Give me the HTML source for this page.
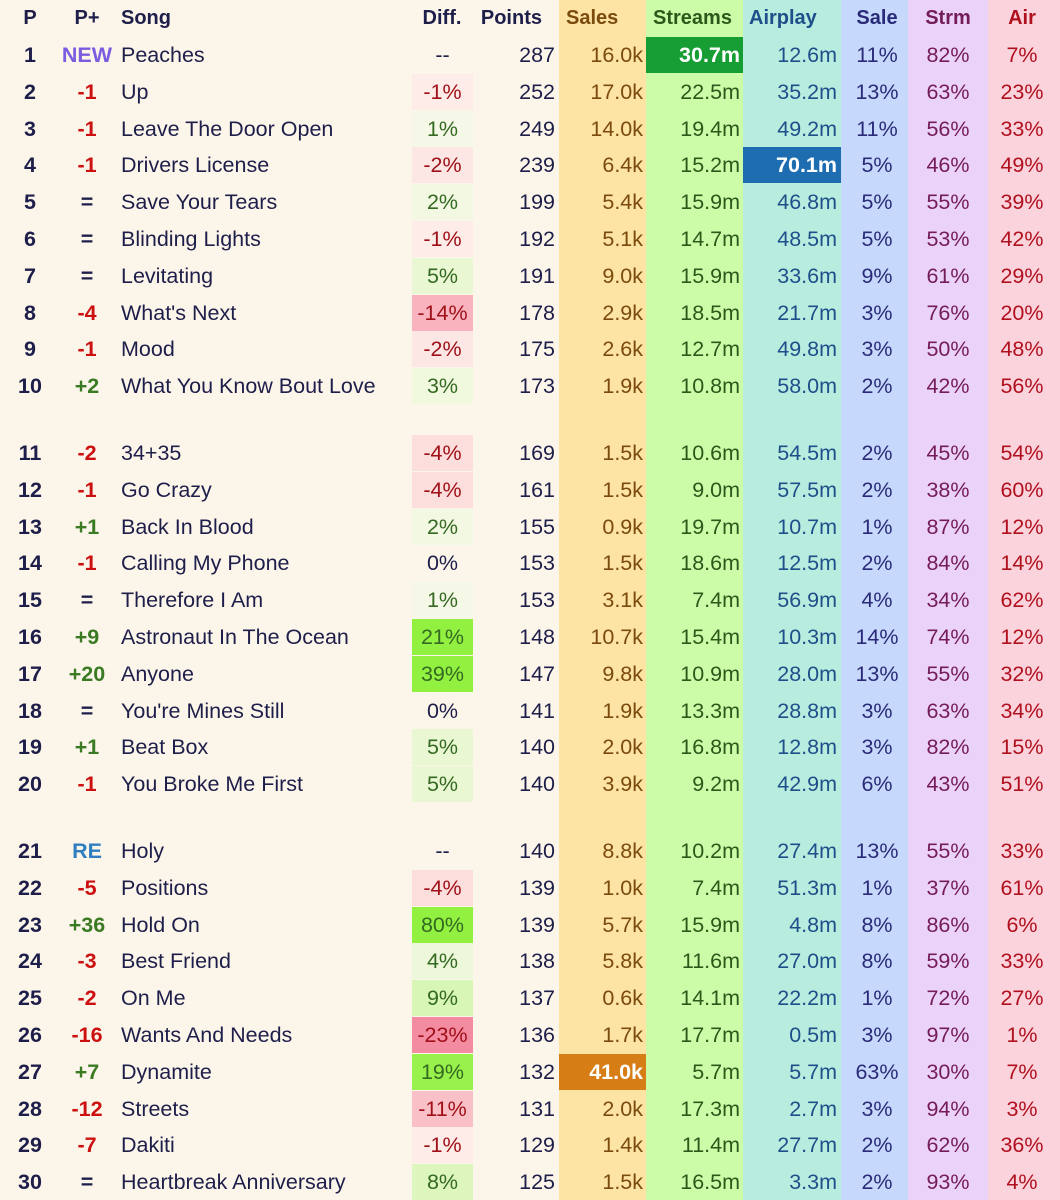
<!DOCTYPE html>
<html><head><meta charset="utf-8">
<style>
html,body{margin:0;padding:0;}
body{width:1060px;height:1200px;background:#fcf6ea;position:relative;overflow:hidden;font-family:"Liberation Sans",sans-serif;font-size:21.5px;color:#1e1e4a;}
.colbg{position:absolute;top:0;height:1200px;}
.c{position:absolute;height:36px;line-height:36px;white-space:nowrap;}
.h{font-weight:bold;font-size:20px;}
</style></head>
<body>
<div class="colbg" style="left:559px;width:87px;background:#fde3a4"></div>
<div class="colbg" style="left:646px;width:97px;background:#cdfca9"></div>
<div class="colbg" style="left:743px;width:98px;background:#b7ecde"></div>
<div class="colbg" style="left:841px;width:67px;background:#c6d9fc"></div>
<div class="colbg" style="left:908px;width:80px;background:#ebd2f8"></div>
<div class="colbg" style="left:988px;width:72px;background:#fbd3dc"></div>
<div id="t"></div>
<script>
const positions=[1,2,3,4,5,6,7,8,9,10,11,12,13,14,15,16,17,18,19,20,21,22,23,24,25,26,27,28,29,30];
const moves=["NEW","-1","-1","-1","=","=","=","-4","-1","+2","-2","-1","+1","-1","=","+9","+20","=","+1","-1","RE","-5","+36","-3","-2","-16","+7","-12","-7","="];
const songs=["Peaches","Up","Leave The Door Open","Drivers License","Save Your Tears","Blinding Lights","Levitating","What's Next","Mood","What You Know Bout Love","34+35","Go Crazy","Back In Blood","Calling My Phone","Therefore I Am","Astronaut In The Ocean","Anyone","You're Mines Still","Beat Box","You Broke Me First","Holy","Positions","Hold On","Best Friend","On Me","Wants And Needs","Dynamite","Streets","Dakiti","Heartbreak Anniversary"];
const diffs=[null,-1,1,-2,2,-1,5,-14,-2,3,-4,-4,2,0,1,21,39,0,5,5,null,-4,80,4,9,-23,19,-11,-1,8];
const points=[287,252,249,239,199,192,191,178,175,173,169,161,155,153,153,148,147,141,140,140,140,139,139,138,137,136,132,131,129,125];
const sales=[16.0,17.0,14.0,6.4,5.4,5.1,9.0,2.9,2.6,1.9,1.5,1.5,0.9,1.5,3.1,10.7,9.8,1.9,2.0,3.9,8.8,1.0,5.7,5.8,0.6,1.7,41.0,2.0,1.4,1.5];
const streams=[30.7,22.5,19.4,15.2,15.9,14.7,15.9,18.5,12.7,10.8,10.6,9.0,19.7,18.6,7.4,15.4,10.9,13.3,16.8,9.2,10.2,7.4,15.9,11.6,14.1,17.7,5.7,17.3,11.4,16.5];
const airplay=[12.6,35.2,49.2,70.1,46.8,48.5,33.6,21.7,49.8,58.0,54.5,57.5,10.7,12.5,56.9,10.3,28.0,28.8,12.8,42.9,27.4,51.3,4.8,27.0,22.2,0.5,5.7,2.7,27.7,3.3];
const saleShare=[11,13,11,5,5,5,9,3,3,2,2,2,1,2,4,14,13,3,3,6,13,1,8,8,1,3,63,3,2,2];
const strmShare=[82,63,56,46,55,53,61,76,50,42,45,38,87,84,34,74,55,63,82,43,55,37,86,59,72,97,30,94,62,93];
const airShare=[7,23,33,49,39,42,29,20,48,56,54,60,12,14,62,12,32,34,15,51,33,61,6,33,27,1,7,3,36,4];

const T=document.getElementById('t');
function cell(txt,style,name){
  const d=document.createElement('div');
  d.className='c';
  d.textContent=txt;
  d.setAttribute('style',style);
  
  
  T.appendChild(d);
  return d;
}
function rowY(i){return 37+i*36.8+Math.floor(i/10)*30;}
function mix(a,b,t){return 'rgb('+a.map((v,k)=>Math.round(v+(b[k]-v)*t)).join(',')+')';}
const hy='top:0px;';
cell('P',hy+'left:10px;width:40px;text-align:center;','header-p').classList.add('h');
cell('P+',hy+'left:62px;width:50px;text-align:center;','header-p-plus').classList.add('h');
cell('Song',hy+'left:121px;','header-song').classList.add('h');
cell('Diff.',hy+'left:411px;width:62px;text-align:center;','header-diff').classList.add('h');
cell('Points',hy+'left:470px;width:72px;text-align:right;','header-points').classList.add('h');
cell('Sales',hy+'left:566px;color:#7a4b0c;','header-sales').classList.add('h');
cell('Streams',hy+'left:653px;color:#2a5a1a;','header-streams').classList.add('h');
cell('Airplay',hy+'left:749px;color:#1f4f8a;','header-airplay').classList.add('h');
cell('Sale',hy+'left:841px;width:72px;text-align:center;color:#2a2a78;','header-sale-share').classList.add('h');
cell('Strm',hy+'left:908px;width:80px;text-align:center;color:#741c58;','header-strm-share').classList.add('h');
cell('Air',hy+'left:988px;width:68px;text-align:center;color:#b0101e;','header-air-share').classList.add('h');

for(let i=0;i<positions.length;i++){
  const y='top:'+rowY(i)+'px;';
  cell(String(positions[i]),y+'left:10px;width:40px;text-align:center;font-weight:bold;','position');
  const m=moves[i];
  let mc='#1e1e4a';
  if(m==='NEW')mc='#7b5ce0';else if(m==='RE')mc='#2f7fc0';else if(m[0]==='-')mc='#cc1010';else if(m[0]==='+')mc='#3a7a22';
  cell(m,y+'left:57px;width:60px;text-align:center;font-weight:bold;color:'+mc+';','position-change');
  cell(songs[i],y+'left:121px;','song-title');
  const dv=diffs[i];
  let dtxt='--',dbg='transparent',dc='#1e1e4a';
  if(dv!==null){
    dtxt=dv+'%';
    if(dv>0){const t=Math.min(1,dv/20);dbg=mix([246,248,232],[146,240,64],Math.pow(t,1.5));dc='#356a22';}
    else if(dv<0){const t=Math.min(1,-dv/24);dbg=mix([253,240,234],[244,136,158],t);dc='#a01018';}
  }
  cell(dtxt,y+'left:412px;width:61px;text-align:center;background:'+dbg+';color:'+dc+';','diff-cell');
  cell(String(points[i]),y+'left:470px;width:85px;text-align:right;','points');
  const sMax=sales[i]===Math.max(...sales);
  cell(sales[i].toFixed(1)+'k',y+'left:559px;width:87px;padding-right:3px;box-sizing:border-box;text-align:right;'+(sMax?'background:#d67d16;color:#fff;font-weight:bold;':'color:#7a4b0c;'),'sales');
  const stMax=streams[i]===Math.max(...streams);
  cell(streams[i].toFixed(1)+'m',y+'left:646px;width:97px;padding-right:3px;box-sizing:border-box;text-align:right;'+(stMax?'background:#169e35;color:#fff;font-weight:bold;':'color:#2a5a1a;'),'streams');
  const aMax=airplay[i]===Math.max(...airplay);
  cell(airplay[i].toFixed(1)+'m',y+'left:743px;width:98px;padding-right:4px;box-sizing:border-box;text-align:right;'+(aMax?'background:#1e6db0;color:#fff;font-weight:bold;':'color:#1f4f8a;'),'airplay');
  cell(saleShare[i]+'%',y+'left:841px;width:72px;text-align:center;color:#2a2a78;','sale-share');
  cell(strmShare[i]+'%',y+'left:908px;width:80px;text-align:center;color:#741c58;','strm-share');
  cell(airShare[i]+'%',y+'left:988px;width:68px;text-align:center;color:#b0101e;','air-share');
}
</script>
</body></html>
